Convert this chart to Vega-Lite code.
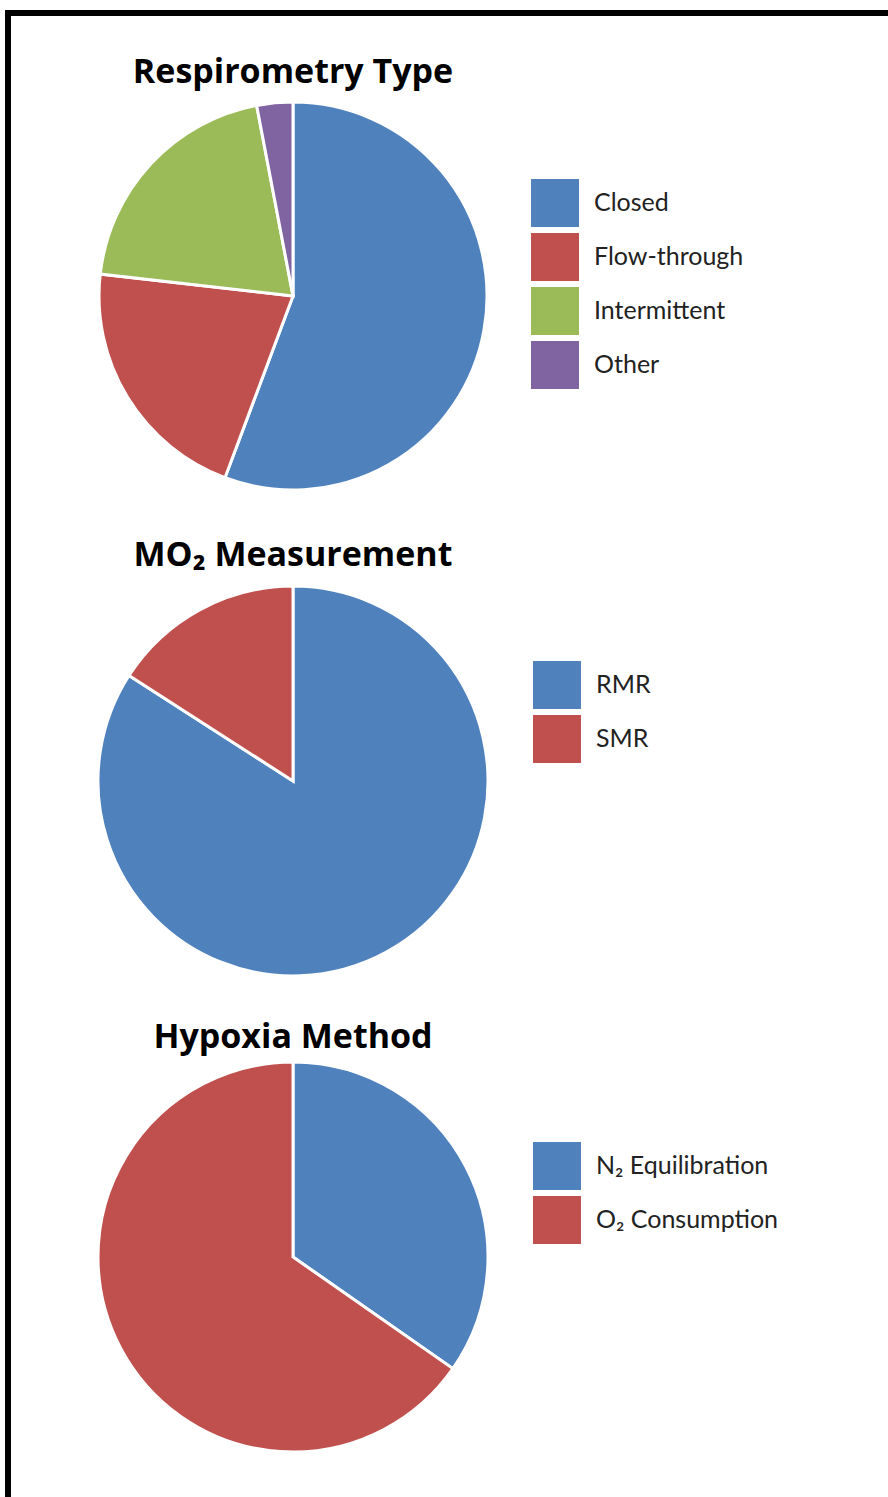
{
  "$schema": "https://vega.github.io/schema/vega-lite/v6.json",
  "background": "white",
  "padding": {"left": 5, "top": 10, "right": -3, "bottom": -37},
  "columns": 2,
  "spacing": 0,
  "bounds": "flush",
  "align": "each",
  "resolve": {"scale": {"color": "independent"}, "legend": {"color": "independent"}},
  "concat": [
    {
      "width": 570,
      "height": 566,
      "view": {"stroke": "#000000", "strokeWidth": 6, "strokeDash": [570, 1136, 566]},
      "layer": [
        {
          "data": {"values": [
            {"category": "Closed", "value": 55.7},
            {"category": "Flow-through", "value": 21.1},
            {"category": "Intermittent", "value": 20.2},
            {"category": "Other", "value": 3.0}
          ]},
          "mark": {"type": "arc", "radius": 194, "stroke": "white", "strokeWidth": 3},
          "encoding": {
            "theta": {"field": "value", "type": "quantitative", "stack": true},
            "order": {"field": "category", "type": "nominal", "sort": "ascending"},
            "color": {
              "field": "category", "type": "nominal",
              "scale": {"domain": ["Closed", "Flow-through", "Intermittent", "Other"], "range": ["#4F81BD", "#C0504D", "#9BBB59", "#8064A2"]},
              "legend": {"title": null, "orient": "none", "legendX": 523, "legendY": 166}
            }
          }
        },
        {
          "data": {"values": [{"t": "Respirometry Type"}]},
          "mark": {"type": "text", "font": "Open Sans", "fontWeight": "bold", "fontSize": 34, "baseline": "alphabetic", "align": "center", "dy": -213, "color": "#000000"},
          "encoding": {"text": {"field": "t"}}
        }
      ]
    },
    {
      "width": 310,
      "height": 566,
      "view": {"stroke": "#000000", "strokeWidth": 6, "strokeDash": [313, 3000]},
      "data": {"values": [{"t": ""}]},
      "mark": "text",
      "encoding": {"text": {"field": "t"}}
    },
    {
      "width": 570,
      "height": 404,
      "view": {"stroke": "#000000", "strokeWidth": 6, "strokeDash": [404, 1544], "strokeDashOffset": 404},
      "layer": [
        {
          "data": {"values": [
            {"category": "RMR", "value": 84.1},
            {"category": "SMR", "value": 15.9}
          ]},
          "mark": {"type": "arc", "radius": 195, "stroke": "white", "strokeWidth": 3},
          "encoding": {
            "theta": {"field": "value", "type": "quantitative", "stack": true},
            "order": {"field": "category", "type": "nominal", "sort": "ascending"},
            "color": {
              "field": "category", "type": "nominal",
              "scale": {"domain": ["RMR", "SMR"], "range": ["#4F81BD", "#C0504D"]},
              "legend": {"title": null, "orient": "none", "legendX": 525, "legendY": 82}
            }
          }
        },
        {
          "data": {"values": [{"t": "MO₂ Measurement"}]},
          "mark": {"type": "text", "font": "Open Sans", "fontWeight": "bold", "fontSize": 34, "baseline": "alphabetic", "align": "center", "dy": -215, "color": "#000000"},
          "encoding": {"text": {"field": "t"}}
        }
      ]
    },
    {
      "width": 310,
      "height": 404,
      "view": {"stroke": null},
      "data": {"values": [{"t": ""}]},
      "mark": "text",
      "encoding": {"text": {"field": "t"}}
    },
    {
      "width": 570,
      "height": 548,
      "view": {"stroke": "#000000", "strokeWidth": 6, "strokeDash": [548, 1688], "strokeDashOffset": 548},
      "layer": [
        {
          "data": {"values": [
            {"category": "N₂ Equilibration", "value": 34.7},
            {"category": "O₂ Consumption", "value": 65.3}
          ]},
          "mark": {"type": "arc", "radius": 195, "stroke": "white", "strokeWidth": 3},
          "encoding": {
            "theta": {"field": "value", "type": "quantitative", "stack": true},
            "order": {"field": "category", "type": "nominal", "sort": "ascending"},
            "color": {
              "field": "category", "type": "nominal",
              "scale": {"domain": ["N₂ Equilibration", "O₂ Consumption"], "range": ["#4F81BD", "#C0504D"]},
              "legend": {"title": null, "orient": "none", "legendX": 525, "legendY": 159}
            }
          }
        },
        {
          "data": {"values": [{"t": "Hypoxia Method"}]},
          "mark": {"type": "text", "font": "Open Sans", "fontWeight": "bold", "fontSize": 34, "baseline": "alphabetic", "align": "center", "dy": -209, "color": "#000000"},
          "encoding": {"text": {"field": "t"}}
        }
      ]
    }
  ],
  "config": {
    "view": {"stroke": "#000000", "strokeWidth": 6},
    "legend": {
      "symbolType": "square",
      "symbolSize": 2304,
      "symbolStrokeWidth": 0,
      "symbolOpacity": 1,
      "labelFont": "Lato",
      "labelFontSize": 25,
      "labelColor": "#222222",
      "labelOffset": 15,
      "labelLimit": 400,
      "rowPadding": 6,
      "padding": 0
    }
  }
}
